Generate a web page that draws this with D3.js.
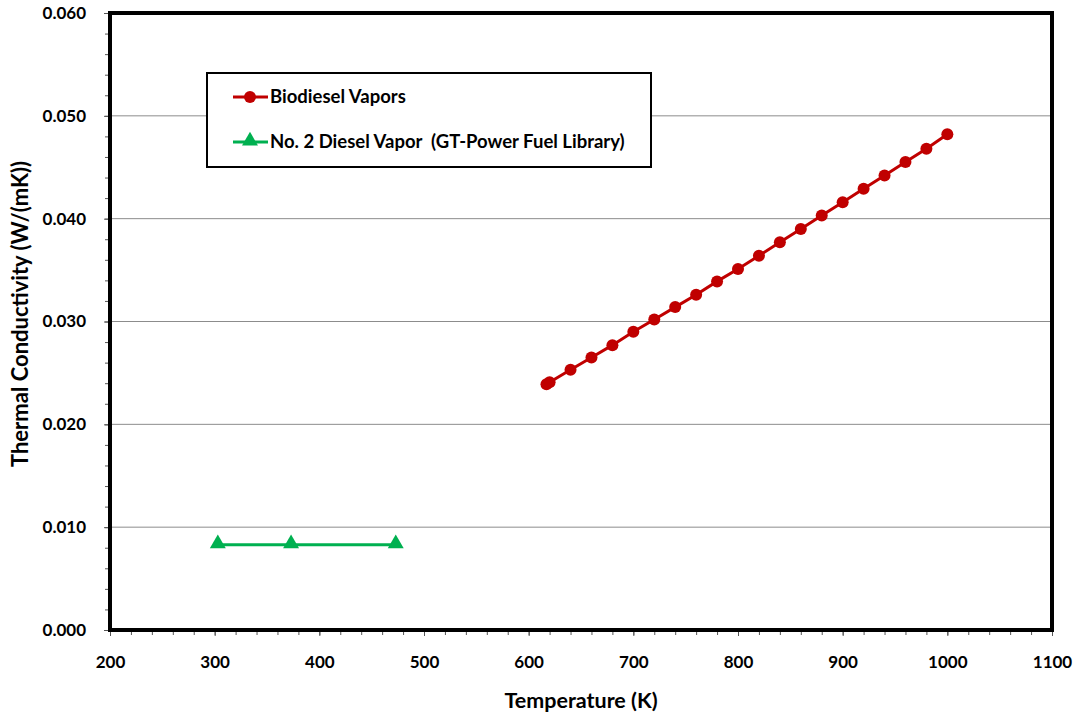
<!DOCTYPE html>
<html><head><meta charset="utf-8">
<script src="https://cdn.jsdelivr.net/npm/d3@7"></script>
<style>body{margin:0;background:#fff}svg{display:block}text{font-family:Lato,"Open Sans",sans-serif;font-weight:bold;fill:#000}</style>
</head><body>
<script>
const bioT = [617, 620, 640, 660, 680, 700, 720, 740, 760, 780, 800, 820, 840, 860, 880, 900, 920, 940, 960, 980, 1000];
const bioK = [0.0239, 0.0241, 0.0253, 0.0265, 0.0277, 0.0290, 0.0302, 0.0314, 0.0326, 0.0339, 0.0351, 0.0364, 0.0377, 0.0390, 0.0403, 0.0416, 0.0429, 0.0442, 0.0455, 0.0468, 0.0482];
const dieselT = [303, 373, 473];
const dieselK = [0.0083, 0.0083, 0.0083];
const xTicks = [200, 300, 400, 500, 600, 700, 800, 900, 1000, 1100];
const yTicks = [0, 0.01, 0.02, 0.03, 0.04, 0.05, 0.06];
const seriesNames = ["Biodiesel Vapors", "No. 2 Diesel Vapor  (GT-Power Fuel Library)"];
const colors = ["#C00000", "#00B050"];

const W = 1078, H = 715;
const m = {l: 110, r: 1052, t: 13, b: 630};
const svg = d3.select("body").append("svg").attr("width", W).attr("height", H);
const x = d3.scaleLinear().domain([200, 1100]).range([m.l, m.r]);
const y = d3.scaleLinear().domain([0, 0.06]).range([m.b, m.t]);

// gridlines
svg.append("g").selectAll("line").data(yTicks.slice(1, -1)).join("line")
  .attr("x1", m.l).attr("x2", m.r).attr("y1", d => y(d)).attr("y2", d => y(d))
  .attr("stroke", "#8c8c8c").attr("stroke-width", 1);

// minor ticks
const xMinor = d3.range(200, 1101, 20);
const yMinor = d3.range(0, 0.0601, 0.002);
svg.append("g").attr("transform", `translate(0,${m.b})`)
  .call(d3.axisBottom(x).tickValues(xMinor).tickSize(5).tickFormat(""))
  .call(g => g.select(".domain").remove())
  .call(g => g.selectAll("line").attr("stroke", "#555"));
svg.append("g").attr("transform", `translate(${m.l},0)`)
  .call(d3.axisLeft(y).tickValues(yMinor).tickSize(5).tickFormat(""))
  .call(g => g.select(".domain").remove())
  .call(g => g.selectAll("line").attr("stroke", "#555"));

// major axes
svg.append("g").attr("transform", `translate(0,${m.b})`)
  .call(d3.axisBottom(x).tickValues(xTicks).tickSize(6).tickPadding(20).tickFormat(d3.format("d")))
  .call(g => g.select(".domain").remove())
  .call(g => g.selectAll("line").attr("stroke", "#555"))
  .call(g => g.selectAll("text").attr("font-size", 17).style("font-family", "Lato").style("font-weight", "bold").attr("fill", "#000"));
svg.append("g").attr("transform", `translate(${m.l},0)`)
  .call(d3.axisLeft(y).tickValues(yTicks).tickSize(6).tickPadding(18).tickFormat(d3.format(".3f")))
  .call(g => g.select(".domain").remove())
  .call(g => g.selectAll("line").attr("stroke", "#555"))
  .call(g => g.selectAll("text").attr("font-size", 17).style("font-family", "Lato").style("font-weight", "bold").attr("fill", "#000"));

// frame
svg.append("rect").attr("x", m.l).attr("y", m.t).attr("width", m.r - m.l).attr("height", m.b - m.t)
  .attr("fill", "none").attr("stroke", "#000").attr("stroke-width", 4);

// series
const bio = bioT.map((t, i) => [t, bioK[i]]);
const dsl = dieselT.map((t, i) => [t, dieselK[i]]);
const line = d3.line().x(d => x(d[0])).y(d => y(d[1]));
svg.append("path").datum(bio).attr("d", line).attr("fill", "none").attr("stroke", colors[0]).attr("stroke-width", 3);
svg.append("g").selectAll("circle").data(bio).join("circle")
  .attr("cx", d => x(d[0])).attr("cy", d => y(d[1])).attr("r", 6).attr("fill", colors[0]);
svg.append("path").datum(dsl).attr("d", line).attr("fill", "none").attr("stroke", colors[1]).attr("stroke-width", 3);
const tri = d3.symbol().type(d3.symbolTriangle).size(110);
svg.append("g").selectAll("path").data(dsl).join("path")
  .attr("d", tri).attr("transform", d => `translate(${x(d[0])},${y(d[1]) - 1})`).attr("fill", colors[1]);

// legend
const lg = svg.append("g");
lg.append("rect").attr("x", 207).attr("y", 73).attr("width", 444).attr("height", 94)
  .attr("fill", "#fff").attr("stroke", "#000").attr("stroke-width", 2);
seriesNames.forEach((n, i) => {
  const yy = 97 + i * 45;
  lg.append("line").attr("x1", 233).attr("x2", 268).attr("y1", yy).attr("y2", yy).attr("stroke", colors[i]).attr("stroke-width", 3);
  if (i === 0) lg.append("circle").attr("cx", 250).attr("cy", yy).attr("r", 6).attr("fill", colors[i]);
  else lg.append("path").attr("d", tri).attr("transform", `translate(250,${yy - 1})`).attr("fill", colors[i]);
  lg.append("text").attr("x", 270).attr("y", yy).attr("dy", "0.35em").attr("font-size", 18.5).attr("xml:space", "preserve").text(n);
});

// axis titles
svg.append("text").attr("x", 581).attr("y", 708).attr("text-anchor", "middle").attr("font-size", 21.5).text("Temperature (K)");
svg.append("text").attr("transform", "translate(28,314) rotate(-90)").attr("text-anchor", "middle").attr("font-size", 22).text("Thermal Conductivity (W/(mK))");
</script>
</body></html>
